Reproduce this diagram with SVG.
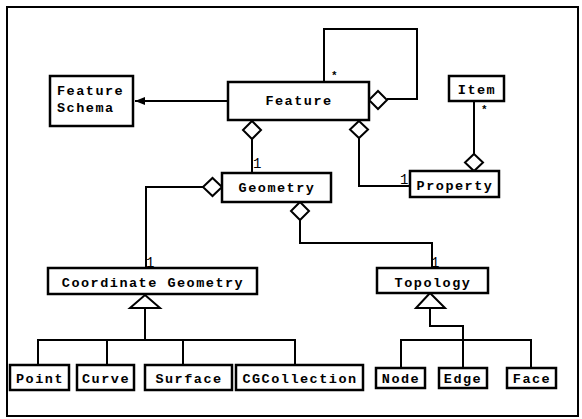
<svg xmlns="http://www.w3.org/2000/svg" width="582" height="419" viewBox="0 0 582 419">
  <style>
    .box { fill: #fff; stroke: #000; stroke-width: 2.5; }
    .line { fill: none; stroke: #000; stroke-width: 2; }
    .dia { fill: #fff; stroke: #000; stroke-width: 2; }
    .lbl { font-family: "Liberation Mono", "DejaVu Sans Mono", monospace; font-weight: bold; font-size: 13.5px; letter-spacing: 1.5px; fill: #000; }
    .mid { text-anchor: middle; }
    .star { font-family: "Liberation Mono", "DejaVu Sans Mono", monospace; font-weight: bold; font-size: 11px; fill: #000; }
    .one { font-family: "Liberation Mono", "DejaVu Sans Mono", monospace; font-size: 14px; fill: #000; }
  </style>
  <defs>
    <marker id="arrow" markerWidth="10" markerHeight="8" refX="10" refY="4" orient="auto" markerUnits="userSpaceOnUse">
      <path d="M0,0 L10,4 L0,8 z" fill="#000"/>
    </marker>
  </defs>

  <rect x="0" y="0" width="582" height="419" fill="#fff"/>
  <!-- outer frame -->
  <rect x="7" y="7" width="571" height="409" fill="none" stroke="#000" stroke-width="2"/>

  <g id="connectors">
    <!-- Feature -> Feature Schema -->
    <line class="line" x1="228" y1="101" x2="135" y2="101" marker-end="url(#arrow)"/>
    <!-- Feature self association -->
    <polyline class="line" points="324,82 324,29 417,29 417,99 387,99"/>
    <polygon class="dia" points="369,100 378,91 387,100 378,109"/>
    <!-- Feature - Geometry -->
    <line class="line" x1="252" y1="139" x2="252" y2="173"/>
    <polygon class="dia" points="252,121 261,130 252,139 243,130"/>
    <!-- Feature - Property -->
    <polyline class="line" points="359,138 359,186 410,186"/>
    <polygon class="dia" points="359,121 368,129.5 359,138 350,129.5"/>
    <!-- Item - Property -->
    <line class="line" x1="474" y1="101" x2="474" y2="154"/>
    <polygon class="dia" points="474,154 483,162.5 474,171 465,162.5"/>
    <!-- Geometry - Coordinate Geometry -->
    <polyline class="line" points="203,187 146,187 146,268"/>
    <polygon class="dia" points="203,187 212.5,178 222,187 212.5,196"/>
    <!-- Geometry - Topology -->
    <polyline class="line" points="300,220 300,243 432,243 432,268"/>
    <polygon class="dia" points="300,202 309,211 300,220 291,211"/>
    <!-- Coordinate Geometry generalisation -->
    <line class="line" x1="145" y1="308" x2="145" y2="340"/>
    <polyline class="line" points="38,365 38,340 295,340 295,365"/>
    <line class="line" x1="107" y1="340" x2="107" y2="365"/>
    <line class="line" x1="183" y1="340" x2="183" y2="365"/>
    <polygon class="dia" points="145,295 160,308 130,308"/>
    <!-- Topology generalisation -->
    <polyline class="line" points="430,308 430,326 463,326 463,368"/>
    <polyline class="line" points="401,368 401,340 531,340 531,368"/>
    <polygon class="dia" points="430,293 445,308 416,308"/>
    <!-- multiplicities -->
    <text class="star" x="331" y="79">*</text>
    <text class="star" x="481" y="113">*</text>
    <text class="one" x="253" y="168">1</text>
    <text class="one" x="400" y="184">1</text>
    <text class="one" x="146" y="267">1</text>
    <text class="one" x="431" y="267">1</text>
  </g>

  <g id="feature-schema">
    <rect class="box" x="50" y="76" width="83" height="50"/>
    <text class="lbl" x="57" y="95">Feature</text>
    <text class="lbl" x="57" y="112">Schema</text>
  </g>
  <g id="feature">
    <rect class="box" x="228" y="82" width="141" height="38"/>
    <text class="lbl mid" x="299" y="105">Feature</text>
  </g>
  <g id="item">
    <rect class="box" x="449" y="76" width="55" height="25"/>
    <text class="lbl mid" x="477" y="94">Item</text>
  </g>
  <g id="geometry">
    <rect class="box" x="222" y="173" width="109" height="29"/>
    <text class="lbl mid" x="277" y="192">Geometry</text>
  </g>
  <g id="property">
    <rect class="box" x="410" y="171" width="89" height="26"/>
    <text class="lbl mid" x="455" y="190">Property</text>
  </g>
  <g id="coordinate-geometry">
    <rect class="box" x="48" y="268" width="209" height="26"/>
    <text class="lbl mid" x="153" y="287">Coordinate Geometry</text>
  </g>
  <g id="topology">
    <rect class="box" x="377" y="268" width="111" height="25"/>
    <text class="lbl mid" x="433" y="287">Topology</text>
  </g>
  <g id="point">
    <rect class="box" x="10" y="365" width="59" height="25"/>
    <text class="lbl mid" x="40" y="383">Point</text>
  </g>
  <g id="curve">
    <rect class="box" x="77" y="365" width="57" height="25"/>
    <text class="lbl mid" x="106" y="383">Curve</text>
  </g>
  <g id="surface">
    <rect class="box" x="145" y="365" width="87" height="25"/>
    <text class="lbl mid" x="189" y="383">Surface</text>
  </g>
  <g id="cgcollection">
    <rect class="box" x="236" y="365" width="127" height="25"/>
    <text class="lbl mid" x="300" y="383">CGCollection</text>
  </g>
  <g id="node">
    <rect class="box" x="376" y="368" width="49" height="20"/>
    <text class="lbl mid" x="401" y="383">Node</text>
  </g>
  <g id="edge">
    <rect class="box" x="439" y="368" width="48" height="20"/>
    <text class="lbl mid" x="463" y="383">Edge</text>
  </g>
  <g id="face">
    <rect class="box" x="507" y="368" width="49" height="20"/>
    <text class="lbl mid" x="532" y="383">Face</text>
  </g>
</svg>
